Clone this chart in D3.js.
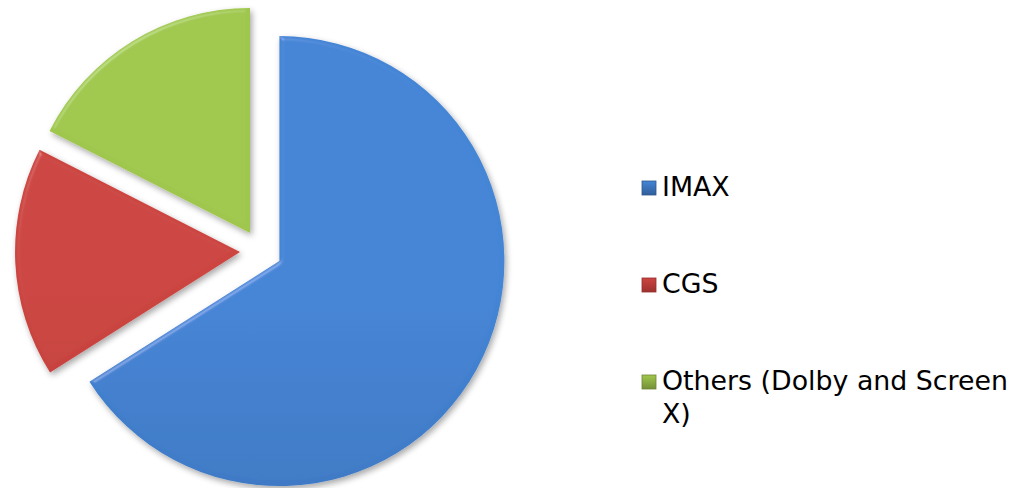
<!DOCTYPE html>
<html>
<head>
<meta charset="utf-8">
<script src="https://cdn.jsdelivr.net/npm/d3@7"></script>
<style>
  html, body { margin: 0; padding: 0; background: #fff; }
  #chart { width: 1017px; height: 488px; }
</style>
</head>
<body>
<div id="chart"></div>
<script>
const categories = ["IMAX", "CGS", "Others (Dolby and Screen X)"];
const shares = [66, 16.5, 17.5];
const legendLines = [["IMAX"], ["CGS"], ["Others (Dolby and Screen", "X)"]];
const topColors = ["#4485d6", "#cc4541", "#a0c74d"];
const bottomColors = ["#386cb0", "#b53935", "#86a63f"];

const width = 1017, height = 488;
const cx = 261, cy = 251, radius = 225, explode = 21;

const svg = d3.select("#chart")
  .append("svg")
  .attr("width", width)
  .attr("height", height)
  .attr("viewBox", [0, 0, width, height]);

const defs = svg.append("defs");

categories.forEach((c, i) => {
  const g = defs.append("linearGradient")
    .attr("id", "grad" + i)
    .attr("gradientUnits", "userSpaceOnUse")
    .attr("x1", 0).attr("y1", cy - radius)
    .attr("x2", 0).attr("y2", cy + radius);
  g.append("stop").attr("offset", "0%").attr("stop-color", topColors[i]);
  g.append("stop").attr("offset", "100%").attr("stop-color", bottomColors[i]);

  const lg = defs.append("linearGradient")
    .attr("id", "lgrad" + i)
    .attr("x1", 0).attr("y1", 0).attr("x2", 0).attr("y2", 1);
  lg.append("stop").attr("offset", "0%").attr("stop-color", topColors[i]);
  lg.append("stop").attr("offset", "100%").attr("stop-color", d3.color(bottomColors[i]).darker(0.4));
});

// soft bevel + shadow
const f = defs.append("filter").attr("id", "bevel")
  .attr("x", "-10%").attr("y", "-10%").attr("width", "125%").attr("height", "125%");
f.append("feGaussianBlur").attr("in", "SourceAlpha").attr("stdDeviation", 2).attr("result", "blur");
const spec = f.append("feSpecularLighting").attr("in", "blur")
  .attr("surfaceScale", 2.5).attr("specularConstant", 0.6).attr("specularExponent", 35)
  .attr("lighting-color", "#ffffff").attr("result", "spec");
spec.append("feDistantLight").attr("azimuth", 235).attr("elevation", 40);
f.append("feComposite").attr("in", "spec").attr("in2", "SourceAlpha").attr("operator", "in").attr("result", "specIn");
f.append("feComposite").attr("in", "SourceGraphic").attr("in2", "specIn")
  .attr("operator", "arithmetic").attr("k1", 0).attr("k2", 1).attr("k3", 0.25).attr("k4", 0).attr("result", "lit");
f.append("feOffset").attr("in", "SourceAlpha").attr("dx", 2).attr("dy", 3).attr("result", "off");
f.append("feGaussianBlur").attr("in", "off").attr("stdDeviation", 3).attr("result", "sblur");
f.append("feComponentTransfer").attr("in", "sblur").attr("result", "shadow")
  .append("feFuncA").attr("type", "linear").attr("slope", 0.35);
const merge = f.append("feMerge");
merge.append("feMergeNode").attr("in", "shadow");
merge.append("feMergeNode").attr("in", "lit");

const pie = d3.pie().sort(null).value(d => d);
const arcs = pie(shares);
const arc = d3.arc().innerRadius(0).outerRadius(radius);

const pieG = svg.append("g").attr("transform", `translate(${cx},${cy})`);

pieG.selectAll("path")
  .data(arcs)
  .enter()
  .append("path")
  .attr("d", arc)
  .attr("transform", d => {
    const mid = (d.startAngle + d.endAngle) / 2;
    return `translate(${Math.sin(mid) * explode},${-Math.cos(mid) * explode})`;
  })
  .style("fill", (d, i) => `url(#grad${i})`)
  .attr("filter", "url(#bevel)");

// legend
const legendY = d3.scalePoint().domain(categories).range([196, 390]);

const legend = svg.append("g")
  .selectAll("g")
  .data(categories)
  .enter()
  .append("g")
  .attr("transform", d => `translate(642,${legendY(d)})`);

legend.append("rect")
  .attr("x", 0).attr("y", -15)
  .attr("width", 14).attr("height", 14)
  .style("fill", (d, i) => `url(#lgrad${i})`)
  .style("stroke", (d, i) => d3.color(bottomColors[i]).darker(0.6))
  .style("stroke-width", 0.8);

legend.append("text")
  .attr("x", 20)
  .attr("y", 0)
  .style("font-family", "'DejaVu Sans', Verdana, sans-serif")
  .style("font-size", "26.8px")
  .style("fill", "#000")
  .selectAll("tspan")
  .data((d, i) => legendLines[i])
  .enter()
  .append("tspan")
  .attr("x", 20)
  .attr("dy", (d, j) => j === 0 ? 0 : 33)
  .text(d => d);
</script>
</body>
</html>
